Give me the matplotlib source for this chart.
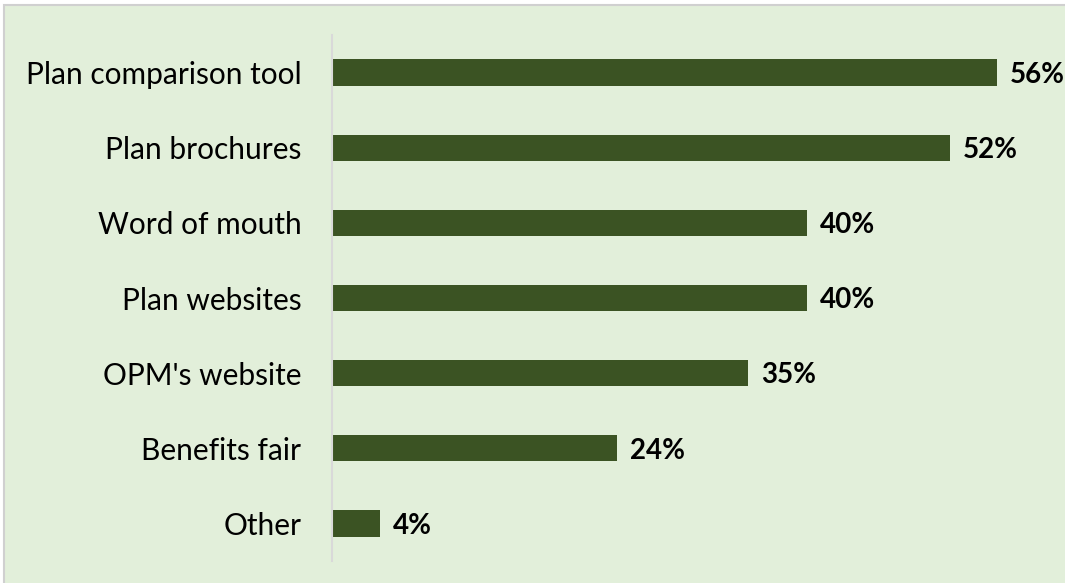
import matplotlib
matplotlib.use("Agg")
import matplotlib.pyplot as plt
from matplotlib.patches import Rectangle

# Information sources used when choosing a plan
categories = ["Plan comparison tool", "Plan brochures", "Word of mouth",
              "Plan websites", "OPM's website", "Benefits fair", "Other"]
values = [56, 52, 40, 40, 35, 24, 4]
value_labels = ["56%", "52%", "40%", "40%", "35%", "24%", "4%"]

W, H = 1065, 583
fig = plt.figure(figsize=(W / 100, H / 100), dpi=100)
fig.patch.set_facecolor("white")

# Panel background with a light grey frame (runs off the right and bottom edges)
panel = Rectangle((4 / W, -0.05), 1.1, (H - 5) / H + 0.05, transform=fig.transFigure,
                  facecolor="#E2EFDA", edgecolor="#D0D0D0", linewidth=1.5, zorder=-10)
fig.patches.append(panel)

left_px, right_px = 332, 332 + 60 * 11.875
top_px, bot_px = 35, 561
ax = fig.add_axes([left_px / W, 1 - bot_px / H, (right_px - left_px) / W, (bot_px - top_px) / H])
ax.set_facecolor("none")
ax.set_zorder(5)

ypos = list(range(len(categories)))
ax.barh(ypos, values, height=0.35, color="#3B5323", zorder=2)
ax.set_ylim(len(categories) - 0.5, -0.5)
ax.set_xlim(0, 60)

for y, v, lab in zip(ypos, values, value_labels):
    ax.text(v + 1.1, y + 0.03, lab, va="center", ha="left", fontsize=20, fontweight="bold",
            family="Lato", color="black")

ax.set_yticks(ypos)
ax.set_yticklabels(categories, fontsize=21.5, family="Lato")
ax.tick_params(axis="y", length=0, pad=22)
ax.set_xticks([])
for s in ["top", "right", "bottom"]:
    ax.spines[s].set_visible(False)
ax.spines["left"].set_color("#D9D9D9")
ax.spines["left"].set_linewidth(1.5)

fig.savefig("out.png", dpi=100)
